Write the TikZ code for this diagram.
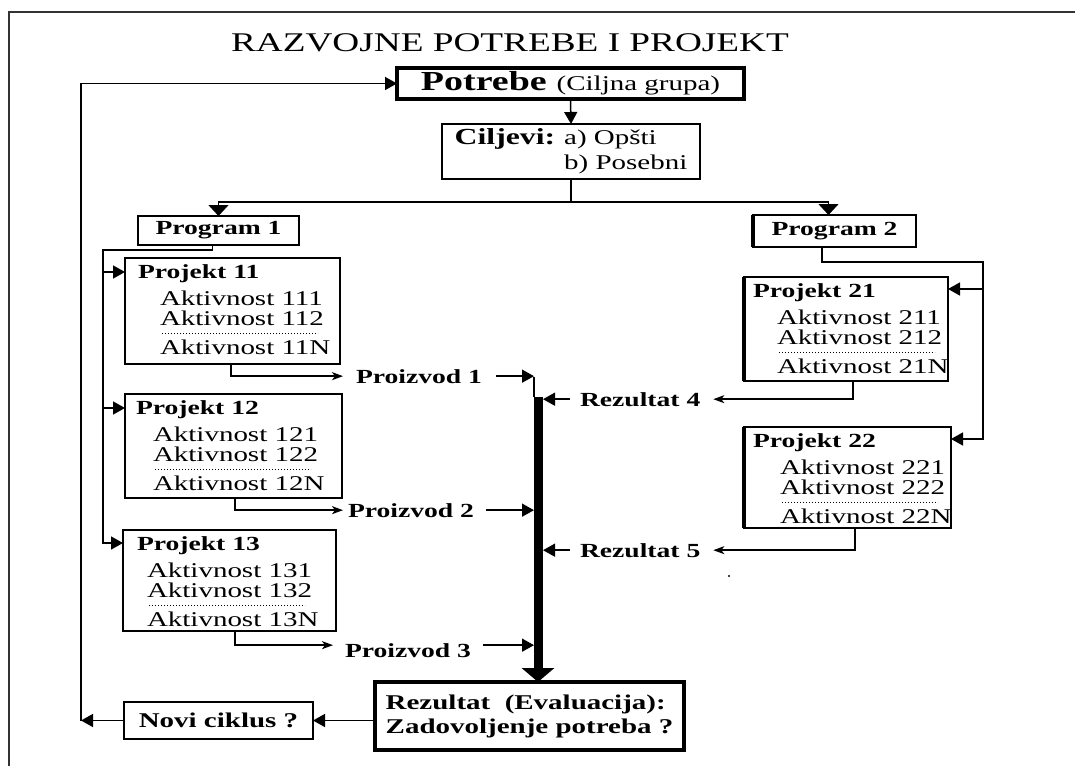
\documentclass[tikz,border=0pt]{standalone}
\usepackage{fontspec}
\setmainfont[FakeStretch=1.38]{Liberation Serif}
\usetikzlibrary{arrows.meta,calc}

% one project box: name, x1, y1, x2, y2, title indent, activity indent, number
\newcommand\projbox[8]{%
  \node[box, minimum width={#4pt-#2pt}, minimum height={#5pt-#3pt}, anchor=north west] (#1) at (#2,#3) {};
  \node[lbl, anchor=base west] (#1-t) at ([xshift=#6pt,yshift=-20pt]#1.north west) {Projekt #8};
  \node[akt, anchor=base west] (#1-a) at ([xshift=#7pt,yshift=-47pt]#1.north west) {Aktivnost #81};
  \node[akt, anchor=base west] (#1-b) at ([xshift=#7pt,yshift=-67pt]#1.north west) {Aktivnost #82};
  \draw[dots] ([xshift=#7pt+2pt,yshift=-75pt]#1.north west) -- ++(156pt,0pt);
  \node[akt, anchor=base west] (#1-n) at ([xshift=#7pt,yshift=-96pt]#1.north west) {Aktivnost #8N};
}

\begin{document}
\begin{tikzpicture}[x=1pt,y=-1pt,
  box/.style={draw, line width=1.5pt, inner sep=0pt, outer sep=0pt},
  lbl/.style={inner sep=0pt, outer sep=0pt, font=\fontsize{20}{22}\selectfont\bfseries},
  akt/.style={inner sep=0pt, outer sep=0pt, font=\fontsize{21}{23}\selectfont},
  dots/.style={line width=1pt, dash pattern=on 1pt off 2pt},
  conn/.style={line width=1.5pt},
  arr/.style={conn, -{Triangle[length=12pt,width=13pt]}},
  darr/.style={conn, -{Triangle[length=11pt,width=20pt]}},
  sarr/.style={conn, -{Stealth[length=11pt,width=8pt,inset=3pt]}},
  bus/.style={line width=9pt, -{Triangle[length=14pt,width=32pt]}}
]
\useasboundingbox (0,0) rectangle (1075,765);
\fill[white] (0,0) rectangle (1075,765);

% frame
\draw[line width=1.5pt, black!80] (9,770) -- (9,12) -- (1080,12);

% title
\node[inner sep=0pt, font=\fontsize{27}{30}\selectfont, anchor=base] (title) at (510,52) {RAZVOJNE POTREBE I PROJEKT};

% needs and goals
\node[box, line width=3.5pt, minimum width=347pt, minimum height=31pt, anchor=north west] (potrebe) at (397,68)
  {{\fontsize{27.5}{29}\selectfont\bfseries Potrebe}\hspace{10pt}{\fontsize{21}{23}\selectfont(Ciljna grupa)}};
\node[box, minimum width=258pt, minimum height=55pt, anchor=north west] (ciljevi) at (442,124)
  {\fontsize{21}{25}\selectfont\begin{tabular}{@{}l@{\hspace{9pt}}l@{}}{\fontsize{23}{25}\selectfont\bfseries Ciljevi:} & a) Opšti\\ & b) Posebni\end{tabular}};

% programmes
\node[box, lbl, minimum width=161pt, minimum height=29pt, anchor=north west] (prog1) at (138,216) {Program 1};
\node[box, lbl, minimum width=163pt, minimum height=32pt, anchor=north west] (prog2) at (753,215) {Program 2};
\draw[line width=3.5pt] (prog2.north west) -- (prog2.south west);

% projects
\projbox{p11}{125}{258}{340}{364}{13}{35}{11}
\projbox{p12}{125}{394}{342}{498}{11}{28}{12}
\projbox{p13}{123}{530}{336}{631}{14}{24}{13}
\projbox{p21}{744}{277}{948}{381}{9}{33}{21}
\projbox{p22}{744}{427}{951}{528}{9}{36}{22}
\draw[line width=3.5pt] (p21.north west) -- (p21.south west);
\draw[line width=3.5pt] (p22.north west) -- (p22.south west);

% products and results
\node[lbl, anchor=base west] (prod1) at (356,383) {Proizvod 1};
\node[lbl, anchor=base west] (prod2) at (348,517) {Proizvod 2};
\node[lbl, anchor=base west] (prod3) at (345,657) {Proizvod 3};
\node[lbl, anchor=base west] (rez4) at (580,406) {Rezultat 4};
\node[lbl, anchor=base west] (rez5) at (580,557) {Rezultat 5};

% evaluation and new cycle
\node[box, line width=4pt, minimum width=309pt, minimum height=68pt, anchor=north west, align=left,
  inner sep=0pt, font=\fontsize{21}{24}\selectfont\bfseries] (rez) at (375,682)
  {Rezultat\ \ (Evaluacija):\\Zadovoljenje potreba ?};
\node[box, minimum width=189pt, minimum height=37pt, anchor=north west,
  font=\fontsize{21}{23}\selectfont\bfseries] (novi) at (124,702) {Novi ciklus ?};

% feedback loop
\coordinate (loop) at (81,0);
\draw[arr] (novi.east -| rez.west) -- (novi.east);
\draw[arr] (novi.west) -- (novi.west -| loop);
\draw[arr] (novi.west -| loop) |- (potrebe.west);

% needs -> goals -> programmes
\draw[arr] (potrebe.south) -- (ciljevi.north);
\coordinate (fork) at (571,202);
\draw[conn] (ciljevi.south) -- (ciljevi.south |- fork);
\draw[darr] (ciljevi.south |- fork) -| (prog1.north);
\draw[darr] (ciljevi.south |- fork) -| ([xshift=-6pt]prog2.north);

% programme 1 -> projects 11..13
\coordinate (lbus) at (103,250);
\coordinate (p11in) at ([yshift=-14pt]p11.north west);
\coordinate (p12in) at ([yshift=-14pt]p12.north west);
\coordinate (p13in) at ([yshift=-13pt]p13.north west);
\draw[arr] ([xshift=-6pt]prog1.south) |- (lbus) |- (p13in);
\draw[arr] (p11in -| lbus) -- (p11in);
\draw[arr] (p12in -| lbus) -- (p12in);

% programme 2 -> projects 21, 22
\coordinate (rbus) at (983,262);
\coordinate (p21in) at ([yshift=-12pt]p21.north east);
\coordinate (p22in) at ([yshift=-12pt]p22.north east);
\draw[arr] ([xshift=-12.5pt]prog2.south) |- (rbus) |- (p22in);
\draw[arr] (p21in -| rbus) -- (p21in);

% projects -> products / results
\draw[sarr] ([xshift=-1.5pt]p11.south) |- ([xshift=-13pt]prod1.west);
\draw[sarr] ([xshift=1.5pt]p12.south) |- ([xshift=-5pt]prod2.west);
\draw[sarr] ([xshift=5.5pt]p13.south) |- ([xshift=-12pt,yshift=5pt]prod3.west);
\draw[sarr] ([xshift=7pt]p21.south) |- ([xshift=13pt]rez4.east);
\draw[sarr] ([xshift=7.5pt]p22.south) |- ([xshift=13pt]rez5.east);

% collecting bar into the evaluation
\coordinate (busTop) at (534,377);
\coordinate (busT) at (538,397);
\coordinate (busR) at (543,397);
\draw[conn] (busTop) -- (busTop |- busT);
\draw[bus] (busT) -- (busT |- rez.north);
\draw[arr] ([xshift=14pt]prod1.east) -- (prod1.east -| busTop);
\draw[arr] ([xshift=12pt]prod2.east) -- (prod2.east -| busTop);
\draw[arr] ([xshift=12pt,yshift=5pt]prod3.east) -- ([yshift=5pt]prod3.east -| busTop);
\draw[arr] ([xshift=-10pt]rez4.west) -- (rez4.west -| busR);
\draw[arr] ([xshift=-10pt]rez5.west) -- (rez5.west -| busR);

\fill (729,576) circle (1.2pt);
\end{tikzpicture}
\end{document}
